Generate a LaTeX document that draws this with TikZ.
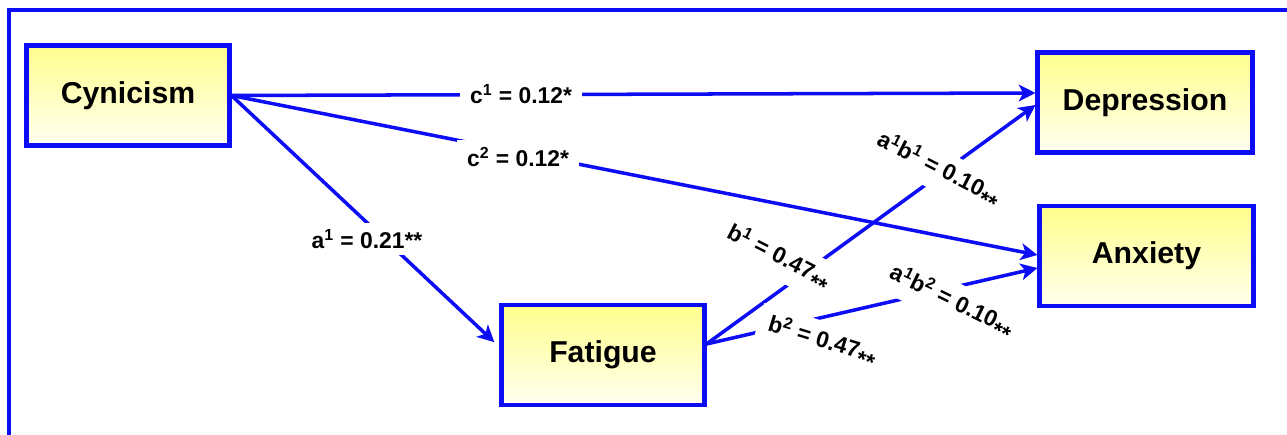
\documentclass[tikz,border=0pt]{standalone}
\usepackage{fontspec}
\setmainfont{Liberation Sans}
\usetikzlibrary{arrows.meta}
\definecolor{pathblue}{RGB}{12,12,245}
\definecolor{boxtop}{RGB}{255,255,140}
\definecolor{boxbot}{RGB}{255,255,240}
\tikzset{
  var/.style={draw=pathblue, line width=2.3pt, top color=boxtop, bottom color=boxbot,
    minimum width=4.06cm, minimum height=2cm, font=\fontsize{17.2}{20}\selectfont\bfseries},
  link/.style={draw=pathblue, line width=2pt, -{Stealth[length=9.5pt,width=9.5pt,inset=2.5pt]}},
  coef/.style={fill=white, inner xsep=6pt, inner ysep=4pt, font=\fontsize{13}{15}\selectfont\bfseries},
}
\newcommand{\lowstars}{\raisebox{-0.35em}{**}}
\begin{document}
\begin{tikzpicture}
\useasboundingbox (0,0) rectangle (25.74,8.70);
% frame
\draw[pathblue, line width=1.9pt] (26,8.50) -- (0.18,8.50) -- (0.18,-0.3);
% variables
\node[var] (cyn) at (2.56,6.79) {Cynicism};
\node[var, minimum width=4.3cm] (dep) at (22.90,6.65) {Depression};
\node[var, minimum width=4.28cm] (anx) at (22.93,3.58) {Anxiety};
\node[var] (fat) at (12.06,1.60) {Fatigue};
% paths
\draw[link] (cyn.east) -- ([yshift=0.19cm]dep.west);
\draw[link] (cyn.east) -- ([yshift=0.02cm]anx.west);
\draw[link, shorten >=0.14cm] (cyn.east) -- ([yshift=0.16cm]fat.west);
\draw[link] ([yshift=0.22cm]fat.east) -- ([yshift=-0.05cm]dep.west);
\draw[link] ([yshift=0.22cm]fat.east) -- ([yshift=-0.24cm]anx.west);
% coefficients
\node[coef] (c1) at (10.42,6.82) {c\textsuperscript{1} = 0.12*};
\node[coef] (c2) at (10.36,5.56) {c\textsuperscript{2} = 0.12*};
\node[coef] (a1) at (7.34,3.92) {a\textsuperscript{1} = 0.21**};
\node[coef, rotate=-27] (b1) at (15.56,3.54) {b\textsuperscript{1} = 0.47\lowstars};
\node[coef, rotate=-27] (ab1) at (18.76,5.30) {a\textsuperscript{1}b\textsuperscript{1} = 0.10\lowstars};
\node[coef, rotate=-17] (b2) at (16.44,1.86) {b\textsuperscript{2} = 0.47\lowstars};
\node[coef, rotate=-26] (ab2) at (19.02,2.66) {a\textsuperscript{1}b\textsuperscript{2} = 0.10\lowstars};
\end{tikzpicture}
\end{document}
